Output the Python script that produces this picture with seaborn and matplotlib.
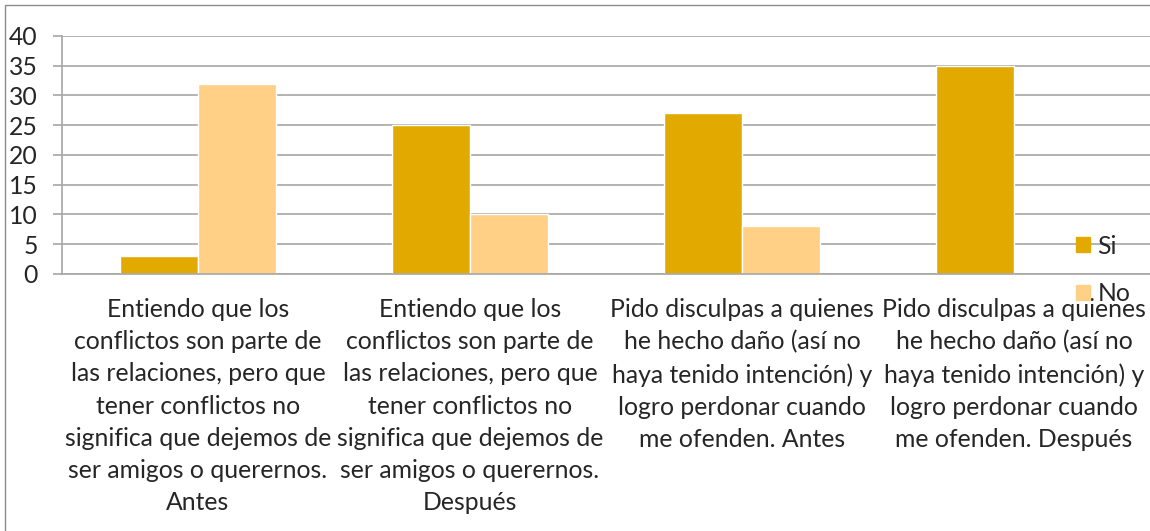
import matplotlib
matplotlib.use("Agg")
import matplotlib.pyplot as plt
from matplotlib.patches import Rectangle
import pandas as pd
import seaborn as sns

categories = [
    "Entiendo que los\nconflictos son parte de\nlas relaciones, pero que\ntener conflictos no\nsignifica que dejemos de\nser amigos o querernos.\nAntes",
    "Entiendo que los\nconflictos son parte de\nlas relaciones, pero que\ntener conflictos no\nsignifica que dejemos de\nser amigos o querernos.\nDespués",
    "Pido disculpas a quienes\nhe hecho daño (así no\nhaya tenido intención) y\nlogro perdonar cuando\nme ofenden. Antes",
    "Pido disculpas a quienes\nhe hecho daño (así no\nhaya tenido intención) y\nlogro perdonar cuando\nme ofenden. Después",
]
si_values = [3, 25, 27, 35]
no_values = [32, 10, 8, 0]
series = ["Si", "No"]
colors = ["#E2AA00", "#FFD085"]
yticks = [0, 5, 10, 15, 20, 25, 30, 35, 40]

df = pd.DataFrame({
    "cat": categories * 2,
    "serie": ["Si"] * 4 + ["No"] * 4,
    "valor": si_values + no_values,
})

sns.set_style("white")
plt.rcParams["font.family"] = ["Lato", "DejaVu Sans"]
fs = 17.8

fig = plt.figure(figsize=(11.5, 5.31), dpi=100)
ax = fig.add_axes([62 / 1150, 1 - 274 / 531, 1 - 62 / 1150, 238 / 531])

sns.barplot(data=df, x="cat", y="valor", hue="serie", hue_order=series,
            palette=colors, saturation=1, width=0.57, edgecolor="white", linewidth=1,
            ax=ax, legend=False)

ax.set_ylim(0, 40)
ax.set_xlim(-0.5, 3.5)
ax.set_yticks(yticks)
ax.set_yticklabels([str(v) for v in yticks], fontsize=fs)
ax.yaxis.grid(True, color="#A6A6A6", linewidth=1.2)
ax.set_axisbelow(True)
ax.set_xlabel("")
ax.set_ylabel("")
for s in ["top", "right"]:
    ax.spines[s].set_visible(False)
for s in ["left", "bottom"]:
    ax.spines[s].set_color("#A6A6A6")
    ax.spines[s].set_linewidth(1.2)

ax.set_xticks(range(4))
ax.set_xticklabels(categories, fontsize=fs, linespacing=1.49, va="top")
ax.tick_params(axis="x", length=0, pad=17)
ax.set_xticks([-0.5, 0.5, 1.5, 2.5, 3.5], minor=True)
ax.tick_params(axis="x", which="minor", length=7, color="#A6A6A6", width=1.2, direction="out")
ax.tick_params(axis="y", length=6.5, color="#A6A6A6", width=1.2, pad=11, left=True)

handles = [Rectangle((0, 0), 1, 1, color=c) for c in colors]
fig.legend(handles, series, loc="center left", bbox_to_anchor=(1064 / 1150, 1 - 270 / 531),
           frameon=False, fontsize=fs, handlelength=0.55, handleheight=0.55,
           labelspacing=1.0, handletextpad=0.3, borderpad=0)

fig.patches.append(Rectangle((5 / 1150, -0.1), 1.2, 1 - 5 / 531 + 0.1, transform=fig.transFigure,
                             fill=False, edgecolor="#8C8C8C", linewidth=1))

fig.savefig("out.png", dpi=100)
